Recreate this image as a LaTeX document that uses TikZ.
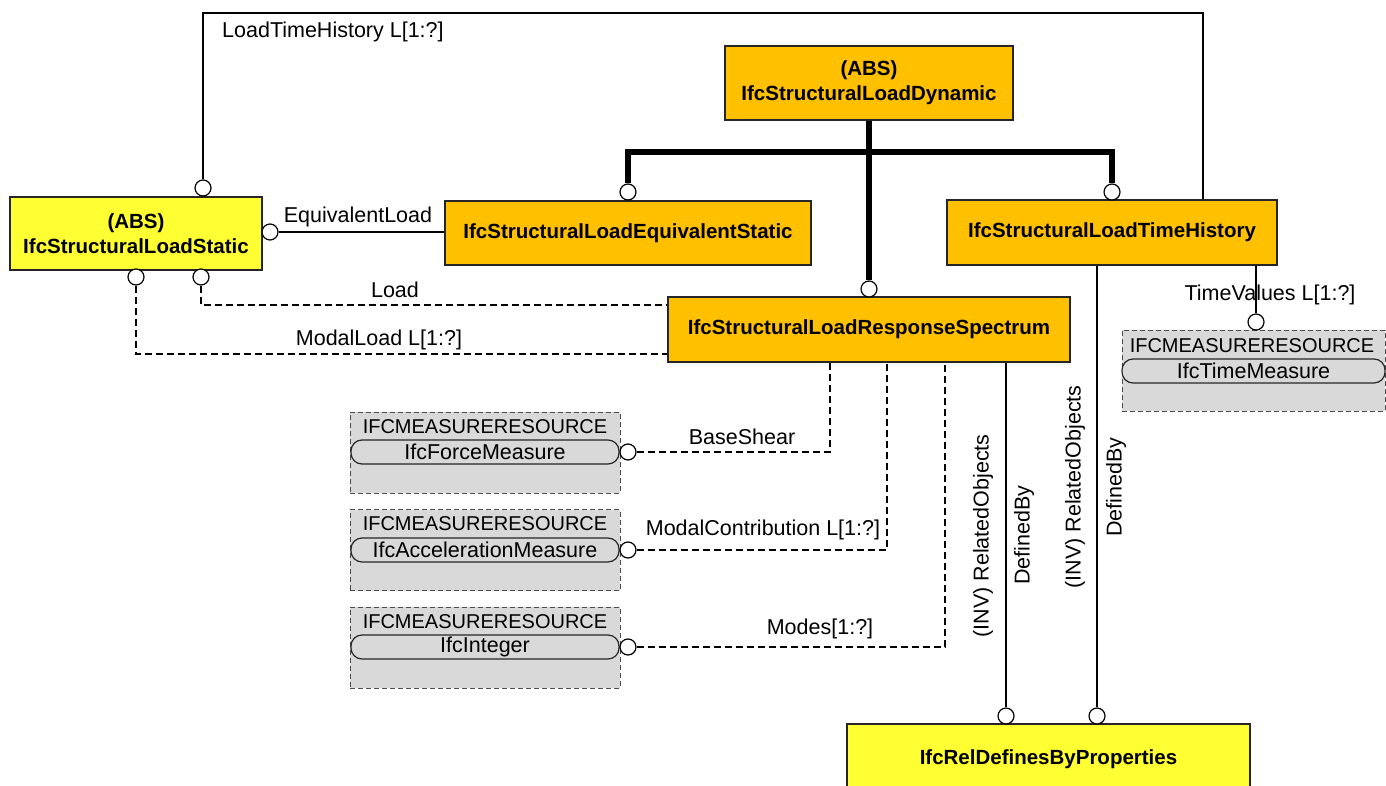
\documentclass[tikz,border=0pt]{standalone}
\usepackage{fontspec}
\setmainfont{Liberation Sans}
\usetikzlibrary{positioning}
\definecolor{ifcorange}{RGB}{255,192,0}
\definecolor{ifcyellow}{RGB}{255,255,51}
\definecolor{ifcgrey}{RGB}{217,217,217}
\newcommand{\bfnt}{\fontsize{20.5}{25}\selectfont\bfseries}
\newcommand{\lfnt}{\fontsize{21.5}{25}\selectfont}
\newcommand{\hfnt}{\fontsize{20}{24}\selectfont}

\begin{document}
\begin{tikzpicture}[x=1pt, y=-1pt,
    ent/.style={rectangle, draw=black!85, line width=1.2pt, fill=ifcorange, inner sep=0pt, align=center, font=\bfnt},
    absent/.style={ent, fill=ifcyellow},
    mres/.style={rectangle, draw=black!70, line width=1pt, dash pattern=on 5pt off 3pt, fill=ifcgrey, minimum height=81pt, inner sep=0pt},
    pill/.style={rectangle, rounded corners=11pt, draw=black!85, line width=1.2pt, fill=ifcgrey, minimum height=24pt, inner sep=0pt, font=\lfnt},
    hdr/.style={inner sep=0pt, font=\hfnt},
    port/.style={circle, draw=black, line width=1.2pt, fill=white, minimum size=16pt, inner sep=0pt},
    lbl/.style={inner sep=0pt, font=\lfnt},
    attr/.style={line width=1.8pt},
    opt/.style={line width=1.6pt, dash pattern=on 7pt off 4pt},
    inh/.style={line width=6pt}
]
    \useasboundingbox (0,0) rectangle (1386,786);

    \node[absent, minimum width=252pt, minimum height=73pt] (stat) at (136,233.5) {(ABS)\\IfcStructuralLoadStatic};
    \node[ent, minimum width=288pt, minimum height=74pt] (dyn) at (869,83) {(ABS)\\IfcStructuralLoadDynamic};
    \node[ent, minimum width=366pt, minimum height=64pt] (eqs) at (628,233) {IfcStructuralLoadEquivalentStatic};
    \node[ent, minimum width=330pt, minimum height=65pt] (tih) at (1112,232.5) {IfcStructuralLoadTimeHistory};
    \node[ent, minimum width=402pt, minimum height=65pt] (rsp) at (869,329.5) {IfcStructuralLoadResponseSpectrum};
    \node[absent, minimum width=403pt, minimum height=70pt] (rel) at (1048.5,759) {IfcRelDefinesByProperties};

    \node[mres, minimum width=270pt] (fmbox) at (485,452.5) {};
    \node[hdr] (fmhdr) at (485,427) {IFCMEASURERESOURCE};
    \node[pill, minimum width=268pt] (fm) at (485,452) {IfcForceMeasure};
    \node[mres, minimum width=270pt] (ambox) at (485,550) {};
    \node[hdr] (amhdr) at (485,524) {IFCMEASURERESOURCE};
    \node[pill, minimum width=268pt] (am) at (485,550) {IfcAccelerationMeasure};
    \node[mres, minimum width=270pt] (imbox) at (485,647.5) {};
    \node[hdr] (imhdr) at (485,622) {IFCMEASURERESOURCE};
    \node[pill, minimum width=268pt] (im) at (485,647) {IfcInteger};
    \node[mres, minimum width=263pt] (tmbox) at (1253.5,370.5) {};
    \node[hdr] (tmhdr) at (1252,346) {IFCMEASURERESOURCE};
    \node[pill, minimum width=263pt] (tm) at (1253.5,371) {IfcTimeMeasure};

    \node[port] (pltl) at (203,188) {};
    \node[port] (peql) at (270,232) {};
    \node[port] (pload) at (201,277) {};
    \node[port] (pmodal) at (136,277) {};
    \node[port] (peqs) at (628,192) {};
    \node[port] (prsp) at (869,289) {};
    \node[port] (ptih) at (1112,192) {};
    \node[port] (ptv) at (1256,322) {};
    \node[port] (pfm) at (628,452) {};
    \node[port] (pam) at (628,550) {};
    \node[port] (pim) at (628,647) {};
    \node[port] (prel1) at (1006,716) {};
    \node[port] (prel2) at (1097,716) {};

    \coordinate (lthc) at (1203,13);
    \coordinate (fork) at (869,152);

    \draw[inh] (dyn.south) -- (prsp.north);
    \draw[inh] (peqs.north) |- (fork) -| (ptih.north);

    \draw[attr] (pltl.north) |- (lthc) -- (lthc |- tih.north);
    \draw[attr] (peql.east) -- (peql.east -| eqs.west);
    \draw[opt] (pload.south) |- ([yshift=24.5pt]rsp.west);
    \draw[opt] (pmodal.south) |- ([yshift=-24.5pt]rsp.west);
    \draw[attr] (tih.south -| ptv) -- (ptv.north);
    \draw[opt] (pfm.east) -| ([xshift=-39pt]rsp.south);
    \draw[opt] (pam.east) -| ([xshift=18pt]rsp.south);
    \draw[opt] (pim.east) -| ([xshift=76pt]rsp.south);
    \draw[attr] (rsp.south -| prel1) -- (prel1.north);
    \draw[attr] (tih.south -| prel2) -- (prel2.north);

    \node[lbl, anchor=west] (lthlbl) at (222,32) {LoadTimeHistory L[1:?]};
    \node[lbl] (eqllbl) at (358,217) {EquivalentLoad};
    \node[lbl] (loadlbl) at (395,290) {Load};
    \node[lbl] (modlbl) at (379,340) {ModalLoad L[1:?]};
    \node[lbl] (tvlbl) at (1270,295) {TimeValues L[1:?]};
    \node[lbl] (bslbl) at (742,437) {BaseShear};
    \node[lbl] (mclbl) at (763,530) {ModalContribution L[1:?]};
    \node[lbl] (mdlbl) at (820,629) {Modes[1:?]};
    \node[lbl, rotate=90] (ro1lbl) at (983,536) {(INV) RelatedObjects};
    \node[lbl, rotate=90] (db1lbl) at (1024,535) {DefinedBy};
    \node[lbl, rotate=90] (ro2lbl) at (1075,487) {(INV) RelatedObjects};
    \node[lbl, rotate=90] (db2lbl) at (1116,487) {DefinedBy};
\end{tikzpicture}
\end{document}
